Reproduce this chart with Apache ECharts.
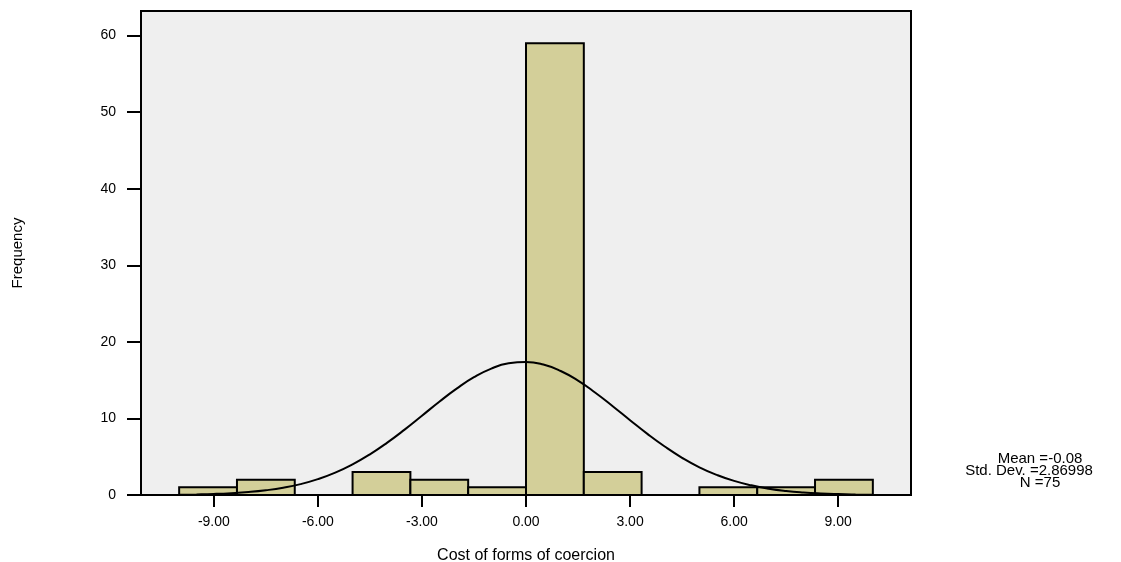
<!DOCTYPE html>
<html>
<head>
<meta charset="utf-8">
<script src="https://cdn.jsdelivr.net/npm/echarts@6/dist/echarts.min.js"></script>
<style>
html, body { margin: 0; padding: 0; background: #fff; }
#main { width: 1121px; height: 562px; }
</style>
</head>
<body>
<div id="main"></div>
<script>
// histogram bins (edges) and counts
var binStart = [-10, -8.333, -6.667, -5, -3.333, -1.667, 0, 1.667, 3.333, 5, 6.667, 8.333];
var binEnd = [-8.333, -6.667, -5, -3.333, -1.667, 0, 1.667, 3.333, 5, 6.667, 8.333, 10];
var counts = [1, 2, 0, 3, 2, 1, 59, 3, 0, 1, 1, 2];

// normal curve
var curveX = [-10, -9.5, -9, -8.5, -8, -7.5, -7, -6.5, -6, -5.5, -5, -4.5, -4, -3.5, -3, -2.5, -2, -1.5, -1, -0.5,
	0, 0.5, 1, 1.5, 2, 2.5, 3, 3.5, 4, 4.5, 5, 5.5, 6, 6.5, 7, 7.5, 8, 8.5, 9, 9.5, 10];
var curveY = [0.04, 0.08, 0.14, 0.24, 0.39, 0.62, 0.95, 1.42, 2.07, 2.92, 4.00, 5.31, 6.84, 8.54, 10.35, 12.18, 13.89, 15.38, 16.51, 17.19,
	17.37, 17.03, 16.19, 14.94, 13.36, 11.60, 9.77, 7.98, 6.33, 4.86, 3.62, 2.63, 1.84, 1.26, 0.83, 0.53, 0.33, 0.20, 0.12, 0.07, 0.04];

var xTicks = [-9, -6, -3, 0, 3, 6, 9];
var yTicks = [0, 10, 20, 30, 40, 50, 60];
var statLines = ['Mean =-0.08', 'Std. Dev. =2.86998', 'N =75'];

var FONT = 'Liberation Sans, Arial, sans-serif';

function showHistogram(divId) {
	var chart = echarts.init(document.getElementById(divId), null, { renderer: 'canvas' });
	var option = genHistOption();
	if (option && typeof option === "object") {
		chart.setOption(option, true);
	}
}

function genHistOption() {
	var barData = [];
	for (var i = 0; i < counts.length; i++) {
		if (counts[i] > 0) {
			barData.push([binStart[i], binEnd[i], counts[i]]);
		}
	}
	var lineData = [];
	for (var j = 0; j < curveX.length; j++) {
		lineData.push([curveX[j], curveY[j]]);
	}

	var option = {
		animation : false,
		textStyle : {
			fontFamily : FONT
		},
		grid : {
			left : 141,
			right : 210,
			top : 11,
			bottom : 67,
			outerBoundsMode : 'none',
			show : true,
			backgroundColor : '#efefef',
			borderColor : '#000',
			borderWidth : 2
		},
		xAxis : {
			type : 'value',
			min : -11.1,
			max : 11.1,
			name : 'Cost of forms of coercion',
			nameLocation : 'middle',
			nameGap : 53,
			nameTextStyle : {
				color : '#000',
				fontSize : 16
			},
			splitLine : { show : false },
			axisLine : {
				onZero : false,
				lineStyle : { color : '#000', width : 2 }
			},
			axisTick : {
				customValues : xTicks,
				length : 12,
				lineStyle : { color : '#000', width : 2 }
			},
			axisLabel : {
				customValues : xTicks,
				color : '#000',
				fontSize : 14,
				margin : 20,
				formatter : function (v) {
					return v.toFixed(2);
				}
			}
		},
		yAxis : {
			type : 'value',
			min : 0,
			max : 63.2,
			name : 'Frequency',
			nameLocation : 'middle',
			nameGap : 116,
			nameTextStyle : {
				color : '#000',
				fontSize : 15
			},
			splitLine : { show : false },
			axisLine : {
				show : true,
				onZero : false,
				lineStyle : { color : '#000', width : 2 }
			},
			axisTick : {
				show : true,
				customValues : yTicks,
				length : 14,
				lineStyle : { color : '#000', width : 2 }
			},
			axisLabel : {
				customValues : yTicks,
				color : '#000',
				fontSize : 14,
				margin : 25
			}
		},
		graphic : [
			{ type : 'text', x : 1040, y : 459, style : { text : statLines[0], fill : '#000', font : '15px ' + FONT, align : 'center', verticalAlign : 'middle' } },
			{ type : 'text', x : 1029, y : 471, style : { text : statLines[1], fill : '#000', font : '15px ' + FONT, align : 'center', verticalAlign : 'middle' } },
			{ type : 'text', x : 1040, y : 483, style : { text : statLines[2], fill : '#000', font : '15px ' + FONT, align : 'center', verticalAlign : 'middle' } }
		],
		series : [ {
			type : 'custom',
			data : barData,
			renderItem : function (params, api) {
				var p0 = api.coord([api.value(0), 0]);
				var p1 = api.coord([api.value(1), api.value(2)]);
				return {
					type : 'rect',
					shape : {
						x : p0[0],
						y : p1[1],
						width : p1[0] - p0[0],
						height : p0[1] - p1[1]
					},
					style : {
						fill : '#d3cf99',
						stroke : '#000',
						lineWidth : 2
					}
				};
			},
			encode : { x : [0, 1], y : 2 },
			z : 2
		}, {
			type : 'line',
			data : lineData,
			smooth : true,
			symbol : 'none',
			lineStyle : { color : '#000', width : 2 },
			z : 3
		} ]
	};

	return option;
}

showHistogram('main');
</script>
</body>
</html>
